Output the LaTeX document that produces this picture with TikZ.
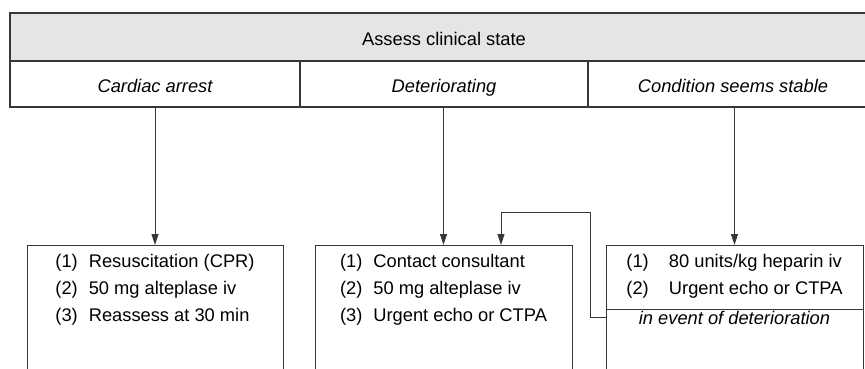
\documentclass[tikz,border=0pt]{standalone}
\usepackage{fontspec}
\setmainfont{Liberation Sans}
\usetikzlibrary{arrows.meta,positioning}
\definecolor{headgrey}{RGB}{229,229,230}
\definecolor{rule}{RGB}{55,55,55}
\tikzset{
  head/.style={draw=rule, line width=2pt, minimum height=48pt, fill=headgrey, text height=17pt, text depth=0pt, font=\fontsize{18.3}{22}\selectfont},
  col/.style={draw=rule, line width=2pt, minimum height=46pt, text height=17pt, text depth=0pt, font=\fontsize{18.3}{22}\selectfont\itshape},
  stepbox/.style={draw=rule, line width=1pt, minimum width=257pt, minimum height=170pt, anchor=north},
  items/.style={inner sep=0pt, font=\fontsize{18.3}{27}\selectfont},
  event/.style={inner sep=0pt, text height=15pt, text depth=2pt, font=\fontsize{18.3}{22}\selectfont\itshape},
  flow/.style={draw=rule, line width=1pt, -{Triangle[length=11pt,width=7pt]}},
}

\begin{document}
\begin{tikzpicture}[x=1pt,y=-1pt]
\useasboundingbox (0,0) rectangle (865,368);
\clip (0,0) rectangle (865,368);
% header rows
\node[head, minimum width=868pt] (assess) at (444,37) {Assess clinical state};
\node[col, minimum width=290pt] (arrest) at (155,84) {Cardiac arrest};
\node[col, minimum width=288pt] (deter) at (444,84) {Deteriorating};
\node[col, minimum width=290pt] (stable) at (733,84) {Condition seems stable};
% action boxes
\node[stepbox, minimum width=256pt] (box1) at (155,245) {};
\node[stepbox] (box2) at (443.5,245) {};
\node[stepbox] (box3) at (734.5,245) {};
\node[items, below=3pt of box1.north] (list1) {\begin{tabular}{@{}l@{\hspace{0.6em}}l@{}}
(1) & Resuscitation (CPR)\\
(2) & 50 mg alteplase iv\\
(3) & Reassess at 30 min
\end{tabular}};
\node[items, below=3pt of box2.north] (list2) {\begin{tabular}{@{}l@{\hspace{0.6em}}l@{}}
(1) & Contact consultant\\
(2) & 50 mg alteplase iv\\
(3) & Urgent echo or CTPA
\end{tabular}};
\node[items, below=3pt of box3.north] (list3) {\begin{tabular}{@{}l@{\hspace{1.1em}}l@{}}
(1) & 80 units/kg heparin iv\\
(2) & Urgent echo or CTPA
\end{tabular}};
\node[event, below=64pt of box3.north] (event) {in event of deterioration};
\draw[draw=rule, line width=1pt] (event.north -| box3.west) -- (event.north -| box3.east);
% connectors
\draw[flow] (box1.north |- arrest.south) -- (box1.north);
\draw[flow] (box2.north |- deter.south) -- (box2.north);
\draw[flow] (box3.north |- stable.south) -- (box3.north);
\coordinate (turn) at (590,212);
\draw[flow] (event.west -| box3.west) -| (turn) -| ([xshift=57.5pt]box2.north);
\end{tikzpicture}
\end{document}
